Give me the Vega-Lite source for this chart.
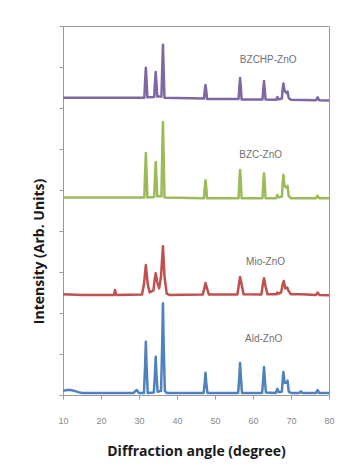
{
  "$schema": "https://vega.github.io/schema/vega-lite/v6.json",
  "width": 266,
  "height": 369,
  "autosize": "none",
  "padding": {"left": 63, "top": 26, "right": 34, "bottom": 75},
  "background": "white",
  "config": {"view": {"stroke": "#9a9a9a", "strokeWidth": 1}, "font": "Open Sans"},
  "datasets": {
    "xrd": [
      {"s":"Ald-ZnO","a":10,"i":0.1},{"s":"Ald-ZnO","a":11,"i":0.12},{"s":"Ald-ZnO","a":12,"i":0.12},{"s":"Ald-ZnO","a":13,"i":0.1},{"s":"Ald-ZnO","a":14,"i":0.07},{"s":"Ald-ZnO","a":15,"i":0.05},{"s":"Ald-ZnO","a":20,"i":0.05},{"s":"Ald-ZnO","a":28.5,"i":0.05},{"s":"Ald-ZnO","a":29.4,"i":0.12},{"s":"Ald-ZnO","a":30,"i":0.05},{"s":"Ald-ZnO","a":31.3,"i":0.05},{"s":"Ald-ZnO","a":31.6,"i":0.7},{"s":"Ald-ZnO","a":31.8,"i":1.3},{"s":"Ald-ZnO","a":32.0,"i":0.7},{"s":"Ald-ZnO","a":32.3,"i":0.05},{"s":"Ald-ZnO","a":33.9,"i":0.06},{"s":"Ald-ZnO","a":34.2,"i":0.5},{"s":"Ald-ZnO","a":34.4,"i":0.93},{"s":"Ald-ZnO","a":34.6,"i":0.5},{"s":"Ald-ZnO","a":34.9,"i":0.08},{"s":"Ald-ZnO","a":35.8,"i":0.1},{"s":"Ald-ZnO","a":36.1,"i":1.2},{"s":"Ald-ZnO","a":36.3,"i":2.24},{"s":"Ald-ZnO","a":36.5,"i":1.2},{"s":"Ald-ZnO","a":36.8,"i":0.1},{"s":"Ald-ZnO","a":37.3,"i":0.05},{"s":"Ald-ZnO","a":47.0,"i":0.05},{"s":"Ald-ZnO","a":47.3,"i":0.3},{"s":"Ald-ZnO","a":47.5,"i":0.54},{"s":"Ald-ZnO","a":47.7,"i":0.3},{"s":"Ald-ZnO","a":48.0,"i":0.05},{"s":"Ald-ZnO","a":56.1,"i":0.05},{"s":"Ald-ZnO","a":56.4,"i":0.45},{"s":"Ald-ZnO","a":56.6,"i":0.78},{"s":"Ald-ZnO","a":56.8,"i":0.45},{"s":"Ald-ZnO","a":57.1,"i":0.05},{"s":"Ald-ZnO","a":62.4,"i":0.05},{"s":"Ald-ZnO","a":62.7,"i":0.4},{"s":"Ald-ZnO","a":62.9,"i":0.68},{"s":"Ald-ZnO","a":63.1,"i":0.4},{"s":"Ald-ZnO","a":63.4,"i":0.06},{"s":"Ald-ZnO","a":66.0,"i":0.05},{"s":"Ald-ZnO","a":66.4,"i":0.15},{"s":"Ald-ZnO","a":66.8,"i":0.07},{"s":"Ald-ZnO","a":67.6,"i":0.08},{"s":"Ald-ZnO","a":67.8,"i":0.35},{"s":"Ald-ZnO","a":68.0,"i":0.56},{"s":"Ald-ZnO","a":68.3,"i":0.3},{"s":"Ald-ZnO","a":68.9,"i":0.3},{"s":"Ald-ZnO","a":69.1,"i":0.35},{"s":"Ald-ZnO","a":69.4,"i":0.08},{"s":"Ald-ZnO","a":70,"i":0.05},{"s":"Ald-ZnO","a":72.2,"i":0.05},{"s":"Ald-ZnO","a":72.6,"i":0.09},{"s":"Ald-ZnO","a":73,"i":0.05},{"s":"Ald-ZnO","a":76.6,"i":0.05},{"s":"Ald-ZnO","a":77.0,"i":0.12},{"s":"Ald-ZnO","a":77.4,"i":0.05},{"s":"Ald-ZnO","a":80,"i":0.05},

      {"s":"Mio-ZnO","a":10,"i":2.46},{"s":"Mio-ZnO","a":15,"i":2.44},{"s":"Mio-ZnO","a":23.4,"i":2.44},{"s":"Mio-ZnO","a":23.7,"i":2.56},{"s":"Mio-ZnO","a":24.0,"i":2.44},{"s":"Mio-ZnO","a":30.8,"i":2.45},{"s":"Mio-ZnO","a":31.3,"i":2.7},{"s":"Mio-ZnO","a":31.8,"i":3.17},{"s":"Mio-ZnO","a":32.3,"i":2.7},{"s":"Mio-ZnO","a":32.8,"i":2.5},{"s":"Mio-ZnO","a":33.8,"i":2.55},{"s":"Mio-ZnO","a":34.1,"i":2.8},{"s":"Mio-ZnO","a":34.4,"i":2.97},{"s":"Mio-ZnO","a":34.8,"i":2.75},{"s":"Mio-ZnO","a":35.3,"i":2.6},{"s":"Mio-ZnO","a":35.8,"i":2.9},{"s":"Mio-ZnO","a":36.3,"i":3.63},{"s":"Mio-ZnO","a":36.7,"i":2.9},{"s":"Mio-ZnO","a":37.3,"i":2.47},{"s":"Mio-ZnO","a":38,"i":2.44},{"s":"Mio-ZnO","a":46.8,"i":2.45},{"s":"Mio-ZnO","a":47.2,"i":2.6},{"s":"Mio-ZnO","a":47.5,"i":2.73},{"s":"Mio-ZnO","a":47.9,"i":2.6},{"s":"Mio-ZnO","a":48.4,"i":2.45},{"s":"Mio-ZnO","a":55.9,"i":2.45},{"s":"Mio-ZnO","a":56.3,"i":2.7},{"s":"Mio-ZnO","a":56.6,"i":2.88},{"s":"Mio-ZnO","a":57.0,"i":2.7},{"s":"Mio-ZnO","a":57.5,"i":2.46},{"s":"Mio-ZnO","a":62.2,"i":2.45},{"s":"Mio-ZnO","a":62.6,"i":2.7},{"s":"Mio-ZnO","a":62.9,"i":2.85},{"s":"Mio-ZnO","a":63.3,"i":2.65},{"s":"Mio-ZnO","a":63.8,"i":2.46},{"s":"Mio-ZnO","a":66.2,"i":2.46},{"s":"Mio-ZnO","a":66.4,"i":2.5},{"s":"Mio-ZnO","a":66.7,"i":2.47},{"s":"Mio-ZnO","a":67.4,"i":2.5},{"s":"Mio-ZnO","a":67.8,"i":2.7},{"s":"Mio-ZnO","a":68.1,"i":2.78},{"s":"Mio-ZnO","a":68.5,"i":2.6},{"s":"Mio-ZnO","a":69.0,"i":2.62},{"s":"Mio-ZnO","a":69.3,"i":2.55},{"s":"Mio-ZnO","a":69.9,"i":2.46},{"s":"Mio-ZnO","a":72.6,"i":2.46},{"s":"Mio-ZnO","a":76.6,"i":2.44},{"s":"Mio-ZnO","a":77.0,"i":2.5},{"s":"Mio-ZnO","a":77.5,"i":2.44},{"s":"Mio-ZnO","a":80,"i":2.43},

      {"s":"BZC-ZnO","a":10,"i":4.82},{"s":"BZC-ZnO","a":31.4,"i":4.82},{"s":"BZC-ZnO","a":31.6,"i":5.4},{"s":"BZC-ZnO","a":31.8,"i":5.9},{"s":"BZC-ZnO","a":32.0,"i":5.4},{"s":"BZC-ZnO","a":32.2,"i":4.82},{"s":"BZC-ZnO","a":34.0,"i":4.83},{"s":"BZC-ZnO","a":34.2,"i":5.3},{"s":"BZC-ZnO","a":34.4,"i":5.68},{"s":"BZC-ZnO","a":34.6,"i":5.3},{"s":"BZC-ZnO","a":34.8,"i":4.85},{"s":"BZC-ZnO","a":35.9,"i":4.85},{"s":"BZC-ZnO","a":36.1,"i":5.8},{"s":"BZC-ZnO","a":36.3,"i":6.66},{"s":"BZC-ZnO","a":36.5,"i":5.8},{"s":"BZC-ZnO","a":36.7,"i":4.82},{"s":"BZC-ZnO","a":47.1,"i":4.8},{"s":"BZC-ZnO","a":47.3,"i":5.05},{"s":"BZC-ZnO","a":47.5,"i":5.24},{"s":"BZC-ZnO","a":47.7,"i":5.05},{"s":"BZC-ZnO","a":47.9,"i":4.8},{"s":"BZC-ZnO","a":56.2,"i":4.8},{"s":"BZC-ZnO","a":56.4,"i":5.2},{"s":"BZC-ZnO","a":56.6,"i":5.49},{"s":"BZC-ZnO","a":56.8,"i":5.2},{"s":"BZC-ZnO","a":57.0,"i":4.8},{"s":"BZC-ZnO","a":62.5,"i":4.8},{"s":"BZC-ZnO","a":62.7,"i":5.15},{"s":"BZC-ZnO","a":62.9,"i":5.41},{"s":"BZC-ZnO","a":63.1,"i":5.15},{"s":"BZC-ZnO","a":63.3,"i":4.8},{"s":"BZC-ZnO","a":66.1,"i":4.8},{"s":"BZC-ZnO","a":66.4,"i":4.88},{"s":"BZC-ZnO","a":66.7,"i":4.82},{"s":"BZC-ZnO","a":67.6,"i":4.84},{"s":"BZC-ZnO","a":67.8,"i":5.15},{"s":"BZC-ZnO","a":68.0,"i":5.37},{"s":"BZC-ZnO","a":68.3,"i":5.1},{"s":"BZC-ZnO","a":68.9,"i":5.05},{"s":"BZC-ZnO","a":69.1,"i":5.1},{"s":"BZC-ZnO","a":69.4,"i":4.85},{"s":"BZC-ZnO","a":70,"i":4.8},{"s":"BZC-ZnO","a":76.6,"i":4.8},{"s":"BZC-ZnO","a":77.0,"i":4.86},{"s":"BZC-ZnO","a":77.4,"i":4.8},{"s":"BZC-ZnO","a":80,"i":4.8},

      {"s":"BZCHP-ZnO","a":10,"i":7.25},{"s":"BZCHP-ZnO","a":31.4,"i":7.25},{"s":"BZCHP-ZnO","a":31.6,"i":7.65},{"s":"BZCHP-ZnO","a":31.8,"i":7.98},{"s":"BZCHP-ZnO","a":32.0,"i":7.65},{"s":"BZCHP-ZnO","a":32.2,"i":7.26},{"s":"BZCHP-ZnO","a":34.0,"i":7.27},{"s":"BZCHP-ZnO","a":34.2,"i":7.6},{"s":"BZCHP-ZnO","a":34.4,"i":7.88},{"s":"BZCHP-ZnO","a":34.6,"i":7.6},{"s":"BZCHP-ZnO","a":34.8,"i":7.28},{"s":"BZCHP-ZnO","a":35.9,"i":7.28},{"s":"BZCHP-ZnO","a":36.1,"i":7.9},{"s":"BZCHP-ZnO","a":36.3,"i":8.54},{"s":"BZCHP-ZnO","a":36.5,"i":7.9},{"s":"BZCHP-ZnO","a":36.7,"i":7.25},{"s":"BZCHP-ZnO","a":47.1,"i":7.23},{"s":"BZCHP-ZnO","a":47.3,"i":7.42},{"s":"BZCHP-ZnO","a":47.5,"i":7.56},{"s":"BZCHP-ZnO","a":47.7,"i":7.42},{"s":"BZCHP-ZnO","a":47.9,"i":7.22},{"s":"BZCHP-ZnO","a":56.2,"i":7.22},{"s":"BZCHP-ZnO","a":56.4,"i":7.5},{"s":"BZCHP-ZnO","a":56.6,"i":7.73},{"s":"BZCHP-ZnO","a":56.8,"i":7.5},{"s":"BZCHP-ZnO","a":57.0,"i":7.21},{"s":"BZCHP-ZnO","a":62.5,"i":7.21},{"s":"BZCHP-ZnO","a":62.7,"i":7.45},{"s":"BZCHP-ZnO","a":62.9,"i":7.66},{"s":"BZCHP-ZnO","a":63.1,"i":7.45},{"s":"BZCHP-ZnO","a":63.3,"i":7.21},{"s":"BZCHP-ZnO","a":66.1,"i":7.2},{"s":"BZCHP-ZnO","a":66.4,"i":7.27},{"s":"BZCHP-ZnO","a":66.7,"i":7.21},{"s":"BZCHP-ZnO","a":67.6,"i":7.23},{"s":"BZCHP-ZnO","a":67.8,"i":7.45},{"s":"BZCHP-ZnO","a":68.0,"i":7.6},{"s":"BZCHP-ZnO","a":68.3,"i":7.42},{"s":"BZCHP-ZnO","a":68.9,"i":7.36},{"s":"BZCHP-ZnO","a":69.1,"i":7.4},{"s":"BZCHP-ZnO","a":69.4,"i":7.24},{"s":"BZCHP-ZnO","a":70,"i":7.2},{"s":"BZCHP-ZnO","a":76.6,"i":7.19},{"s":"BZCHP-ZnO","a":77.0,"i":7.26},{"s":"BZCHP-ZnO","a":77.4,"i":7.19},{"s":"BZCHP-ZnO","a":80,"i":7.18}
    ],
    "labels": [
      {"label":"BZCHP-ZnO","a":64,"i":8.17},
      {"label":"BZC-ZnO","a":62,"i":5.85},
      {"label":"Mio-ZnO","a":63.3,"i":3.24},
      {"label":"Ald-ZnO","a":62.8,"i":1.37}
    ]
  },
  "encoding": {
    "x": {"field": "a", "type": "quantitative",
      "scale": {"domain": [10, 80], "nice": false, "zero": false},
      "axis": {"tickCount": 7, "grid": false, "domain": false,
        "labelOverlap": false, "labelBound": false, "labelFlush": false,
        "tickColor": "#9a9a9a", "tickSize": 4, "labelColor": "#888888", "labelFontSize": 9,
        "labelFont": "Liberation Sans",
        "labelPadding": 17, "title": "Diffraction angle (degree)", "titleFontSize": 14,
        "titleFontWeight": "bold", "titleColor": "#1a1a1a", "titlePadding": 19}},
    "y": {"field": "i", "type": "quantitative",
      "scale": {"domain": [0, 9], "nice": false},
      "axis": {"tickCount": 9, "grid": false, "domain": false, "labels": false,
        "tickColor": "#9a9a9a", "tickSize": 4, "title": "Intensity (Arb. Units)", "titleFontSize": 14,
        "titleFontWeight": "bold", "titleColor": "#1a1a1a", "titlePadding": 12, "titleY": 225}}
  },
  "layer": [
    {
      "data": {"name": "xrd"},
      "mark": {"type": "line", "strokeWidth": 2.5, "strokeJoin": "round"},
      "encoding": {
        "color": {"field": "s", "type": "nominal",
          "scale": {"domain": ["BZCHP-ZnO","BZC-ZnO","Mio-ZnO","Ald-ZnO"],
                    "range": ["#7f67a3","#9bbb59","#c0504d","#4f81bd"]},
          "legend": null}
      }
    },
    {
      "data": {"name": "labels"},
      "mark": {"type": "text", "fontSize": 10, "font": "Liberation Sans", "color": "#707070", "align": "center", "baseline": "middle"},
      "encoding": {
        "text": {"field": "label"}
      }
    }
  ]
}
